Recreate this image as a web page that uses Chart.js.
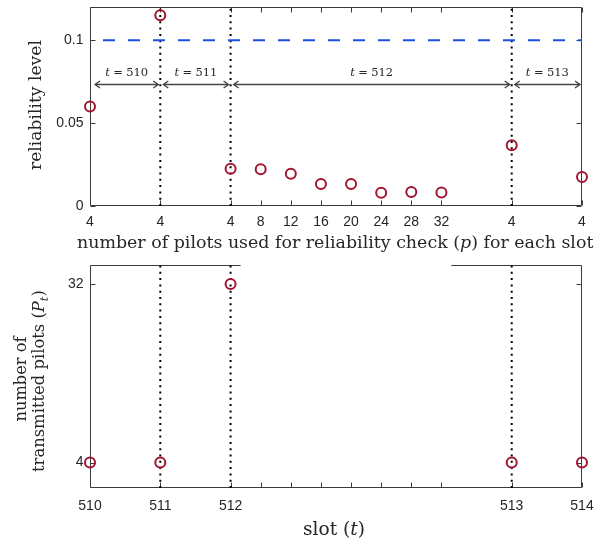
<!DOCTYPE html>
<html>
<head>
<meta charset="utf-8">
<script src="https://cdn.jsdelivr.net/npm/chart.js@4.4.1/dist/chart.umd.min.js"></script>
<style>
  body { margin: 0; background: #fff; }
  canvas { position: absolute; left: 0; }
  #relChart { top: 0; }
  #pilotChart { top: 258px; }
</style>
</head>
<body>
<canvas id="relChart" width="608" height="258"></canvas>
<canvas id="pilotChart" width="608" height="284"></canvas>
<script>
// shared x coordinate of every reliability check (slot boundaries at 0, 7, 14, 42, 49)
const checkPos = [0, 7, 14, 17, 20, 23, 26, 29, 32, 35, 42, 49];
const pilotLabels = ['4', '4', '4', '8', '12', '16', '20', '24', '28', '32', '4', '4'];
const reliability = [0.060, 0.115, 0.0225, 0.0222, 0.0194, 0.0133, 0.0133, 0.0080, 0.0084, 0.0082, 0.0367, 0.0175];
const targetLevel = 0.1;
const relTicks = [0, 0.05, 0.1];

const slots = [510, 511, 512, 513, 514];
const slotPos = [0, 7, 14, 42, 49];
const pilotsSent = [4, 4, 32, 4, 4];
const pilotTicks = [4, 32];

const boundaryPos = [7, 14, 42];
const arrowLevel = 0.0735;

const RED = 'rgb(162,20,47)';
const BLUE = 'rgb(30,80,225)';
const AXIS = '#3a3a3a';
const TEXT = '#262626';
const SERIF = '"DejaVu Serif", "Liberation Serif", serif';
const SANS = '"Liberation Sans", Arial, sans-serif';

// draw a run of text pieces (plain / italic / subscript) centred on cx, cy;
// the font size is chosen so the whole run is `width` pixels wide
function drawRich(ctx, parts, cx, cy, width) {
  const fontFor = (p, size) => (p.it ? 'italic ' : '') + (p.sub ? size * 0.7 : size) + 'px ' + SERIF;
  const measure = size => parts.reduce((w, p) => {
    ctx.font = fontFor(p, size);
    return w + ctx.measureText(p.t).width + (p.gap || 0) * size / 10;
  }, 0);
  const size = 10 * width / measure(10);
  let x = cx - width / 2;
  ctx.textAlign = 'left';
  ctx.textBaseline = 'middle';
  ctx.fillStyle = TEXT;
  parts.forEach(p => {
    ctx.font = fontFor(p, size);
    ctx.fillText(p.t, x, p.sub ? cy + size * 0.3 : cy);
    x += ctx.measureText(p.t).width + (p.gap || 0) * size / 10;
  });
}

function drawRotated(ctx, parts, x, y, width) {
  ctx.save();
  ctx.translate(x, y);
  ctx.rotate(-Math.PI / 2);
  drawRich(ctx, parts, 0, 0, width);
  ctx.restore();
}

// box around the plot area with inward ticks
const frame = {
  id: 'frame',
  beforeDatasetsDraw(chart, args, opts) {
    const { ctx, chartArea: a, scales: { x, y } } = chart;
    const L = Math.round(a.left) + 0.5, R = Math.round(a.right) - 0.5;
    const T = Math.round(a.top) + 0.5, B = Math.round(a.bottom) - 0.5;
    ctx.save();
    ctx.strokeStyle = AXIS;
    ctx.lineWidth = 1;
    ctx.beginPath();
    ctx.moveTo(L, T); ctx.lineTo(L, B); ctx.lineTo(R, B); ctx.lineTo(R, T);
    if (opts.gap) {
      ctx.moveTo(L, T); ctx.lineTo(x.getPixelForValue(opts.gap[0]), T);
      ctx.moveTo(x.getPixelForValue(opts.gap[1]), T); ctx.lineTo(R, T);
    } else {
      ctx.lineTo(L, T);
    }
    x.ticks.forEach(t => {
      const px = Math.round(x.getPixelForValue(t.value)) + 0.5;
      ctx.moveTo(px, B); ctx.lineTo(px, B - 5);
      if (opts.topTicks) { ctx.moveTo(px, T); ctx.lineTo(px, T + 5); }
    });
    y.ticks.forEach(t => {
      const py = Math.round(y.getPixelForValue(t.value)) + 0.5;
      ctx.moveTo(L, py); ctx.lineTo(L + 5, py);
      ctx.moveTo(R, py); ctx.lineTo(R - 5, py);
    });
    ctx.stroke();
    ctx.restore();
  }
};

// double headed arrows marking the span of each slot
const slotArrows = {
  id: 'slotArrows',
  afterDatasetsDraw(chart) {
    const { ctx, scales: { x, y } } = chart;
    const py = Math.round(y.getPixelForValue(arrowLevel)) + 0.5;
    ctx.save();
    ctx.strokeStyle = '#444';
    ctx.lineWidth = 1.3;
    for (let i = 0; i < slotPos.length - 1; i++) {
      const x0 = x.getPixelForValue(slotPos[i]) + (i === 0 ? 5 : 3);
      const x1 = x.getPixelForValue(slotPos[i + 1]) - 2;
      ctx.beginPath();
      ctx.moveTo(x0, py); ctx.lineTo(x1, py);
      ctx.moveTo(x0 + 5, py - 3.5); ctx.lineTo(x0, py); ctx.lineTo(x0 + 5, py + 3.5);
      ctx.moveTo(x1 - 5, py - 3.5); ctx.lineTo(x1, py); ctx.lineTo(x1 - 5, py + 3.5);
      ctx.stroke();
      drawRich(ctx, [{ t: 't', it: true, gap: 3 }, { t: '=', gap: 3 }, { t: String(slots[i]) }],
        (x0 + x1) / 2, py - 11, 43);
    }
    ctx.restore();
  }
};

const relTitles = {
  id: 'relTitles',
  afterDraw(chart) {
    const { ctx, chartArea: a } = chart;
    drawRotated(ctx, [{ t: 'reliability level' }], 37, 105, 130);
    drawRich(ctx, [{ t: 'number of pilots used for reliability check (' }, { t: 'p', it: true },
      { t: ') for each slot' }], 335.5, a.bottom + 37, 517);
  }
};

const pilotTitles = {
  id: 'pilotTitles',
  afterDraw(chart) {
    const { ctx, chartArea: a } = chart;
    drawRotated(ctx, [{ t: 'number of' }], 22, 121, 85);
    drawRotated(ctx, [{ t: 'transmitted pilots (' }, { t: 'P', it: true }, { t: 't', it: true, sub: true },
      { t: ')' }], 40, 123, 182);
    drawRich(ctx, [{ t: 'slot (' }, { t: 't', it: true }, { t: ')' }], 334, a.bottom + 42, 62);
  }
};

function dottedLines(yMax) {
  return boundaryPos.map(bx => ({
    data: [{ x: bx, y: 0 }, { x: bx, y: yMax }],
    showLine: true,
    borderColor: '#000',
    borderWidth: 2,
    borderDash: [2, 4.3],
    pointRadius: 0
  }));
}

const circles = {
  pointStyle: 'circle',
  pointRadius: 5,
  pointBorderWidth: 2,
  pointBorderColor: RED,
  pointBackgroundColor: 'rgba(0,0,0,0)',
  showLine: false,
  clip: false
};

// keep Chart.js from reserving room for label overhang
function noOverhang(s) {
  s.paddingTop = 0; s.paddingBottom = 0; s.paddingLeft = 0; s.paddingRight = 0;
}

function xScale(labelFor, pad) {
  return {
    type: 'linear', min: 0, max: 49,
    grid: { display: false, drawTicks: false }, border: { display: false },
    afterBuildTicks: axis => { axis.ticks = checkPos.map(v => ({ value: v })); },
    afterFit: s => { s.height = pad.h; noOverhang(s); },
    ticks: {
      autoSkip: false, maxRotation: 0, padding: pad.p, color: TEXT,
      font: { family: SANS, size: 14 },
      callback: labelFor
    }
  };
}

function yScale(min, max, values) {
  return {
    min, max,
    grid: { display: false, drawTicks: false }, border: { display: false },
    afterBuildTicks: axis => { axis.ticks = values.map(v => ({ value: v })); },
    afterFit: s => { s.width = 90; noOverhang(s); },
    ticks: { padding: 6.5, color: TEXT, font: { family: SANS, size: 14 }, callback: v => String(v) }
  };
}

const plainPlugins = { legend: { display: false }, tooltip: { enabled: false } };

new Chart(document.getElementById('relChart'), {
  type: 'scatter',
  data: {
    datasets: [
      Object.assign({ data: checkPos.map((x, i) => ({ x, y: reliability[i] })) }, circles),
      {
        data: [{ x: 0, y: targetLevel }, { x: 49, y: targetLevel }],
        showLine: true, borderColor: BLUE, borderWidth: 2,
        borderDash: [12, 13], borderDashOffset: 12, pointRadius: 0
      },
      ...dottedLines(0.12)
    ]
  },
  options: {
    responsive: false,
    animation: false,
    layout: { padding: { left: 0, right: 26, top: 3, bottom: 0 } },
    scales: {
      x: xScale((v, i) => pilotLabels[i], { h: 52, p: 8 }),
      y: yScale(0, 0.12, relTicks)
    },
    plugins: Object.assign({ frame: { topTicks: true } }, plainPlugins)
  },
  plugins: [frame, slotArrows, relTitles]
});

new Chart(document.getElementById('pilotChart'), {
  type: 'scatter',
  data: {
    datasets: [
      Object.assign({ data: slotPos.map((x, i) => ({ x, y: pilotsSent[i] })) }, circles),
      ...dottedLines(35)
    ]
  },
  options: {
    responsive: false,
    animation: false,
    layout: { padding: { left: 0, right: 26, top: 7, bottom: 0 } },
    scales: {
      x: xScale(v => { const i = slotPos.indexOf(v); return i >= 0 ? String(slots[i]) : ''; }, { h: 54, p: 10 }),
      y: yScale(0, 35, pilotTicks)
    },
    plugins: Object.assign({ frame: { topTicks: false, gap: [15, 36] } }, plainPlugins)
  },
  plugins: [frame, pilotTitles]
});
</script>
</body>
</html>
